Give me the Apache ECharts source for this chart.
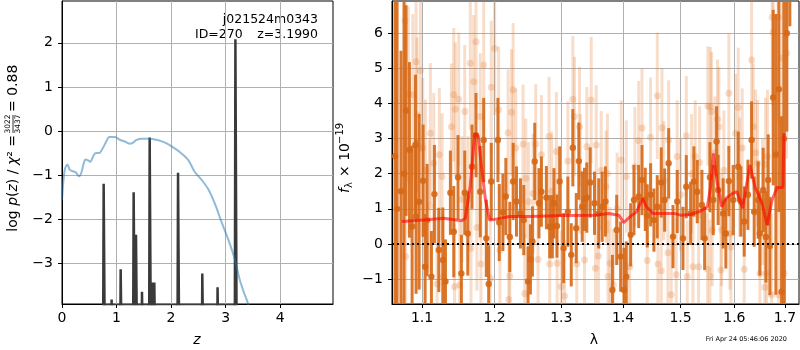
<!DOCTYPE html>
<html>
<head>
<meta charset="utf-8">
<script src="https://cdn.jsdelivr.net/npm/echarts@6/dist/echarts.min.js"></script>
<style>
html, body { margin: 0; padding: 0; background: #fff; }
#charts { width: 800px; height: 350px; }
</style>
</head>
<body>
<div id="charts"></div>
<script>
// left panel: log p(z) curve
var pzZ = [0, 0.05, 0.10, 0.14, 0.21, 0.26, 0.31, 0.355, 0.40, 0.43, 0.48, 0.52, 0.57, 0.62, 0.68, 0.74, 0.80, 0.87, 0.97, 1.06,
  1.15, 1.24, 1.30, 1.36, 1.46, 1.58, 1.73, 1.88, 2.01, 2.16, 2.31, 2.43, 2.56, 2.68, 2.80, 2.92, 3.05, 3.17, 3.26, 3.34, 3.41, 3.50];
var pzLog = [-1.56, -0.88, -0.76, -0.88, -0.92, -0.95, -1.03, -0.95, -0.73, -0.65, -0.67, -0.70, -0.58, -0.50, -0.50, -0.41, -0.27, -0.14, -0.14, -0.20,
  -0.24, -0.29, -0.27, -0.21, -0.18, -0.18, -0.20, -0.26, -0.35, -0.48, -0.65, -0.92, -1.11, -1.32, -1.64, -2.05, -2.47, -2.92, -3.38, -3.68, -3.92, -4.4];
// chi2 spikes
var spikeZ = [0.771, 0.917, 1.083, 1.321, 1.364, 1.474, 1.615, 1.67, 1.70, 2.135, 2.58, 2.86, 3.187];
var spikeTop = [-1.20, -3.83, -3.14, -1.39, -2.36, -3.65, -0.15, -3.44, -3.44, -0.95, -3.24, -3.55, 2.08];
var zTicks = [0, 1, 2, 3, 4];
var logpTicks = [-3, -2, -1, 0, 1, 2];

// right panel: spectrum
var lamTicks = [1.1, 1.2, 1.3, 1.4, 1.5, 1.6, 1.7];
var fluxTicks = [-1, 0, 1, 2, 3, 4, 5, 6];

var darkLam = [1.0649, 1.0675, 1.0725, 1.0764, 1.0790, 1.0834, 1.0869, 1.0913, 1.0921, 1.0961,
  1.1013, 1.1040, 1.1066, 1.1124, 1.1164, 1.1223, 1.1277, 1.1313, 1.1380, 1.1426,
  1.1485, 1.1531, 1.1578, 1.1620, 1.1679, 1.1735, 1.1795, 1.1844, 1.1881, 1.1915,
  1.1952, 1.2048, 1.2067, 1.2120, 1.2163, 1.2221, 1.2270, 1.2319, 1.2378, 1.2427,
  1.2491, 1.2527, 1.2557, 1.2592, 1.2656, 1.2693, 1.2769, 1.2820, 1.2861, 1.2886,
  1.2932, 1.2974, 1.3036, 1.3103, 1.3156, 1.3181, 1.3235, 1.3276, 1.3330, 1.3367,
  1.3404, 1.3458, 1.3528, 1.3597, 1.3653, 1.3707, 1.3822, 1.3893, 1.3959, 1.4015,
  1.4054, 1.4128, 1.4184, 1.4264, 1.4321, 1.4378, 1.4412, 1.4470, 1.4528, 1.4586,
  1.4656, 1.4716, 1.4787, 1.4864, 1.4940, 1.5043, 1.5103, 1.5182, 1.5242, 1.5303,
  1.5389, 1.5439, 1.5537, 1.5599, 1.5662, 1.5692, 1.5786, 1.5837, 1.5894, 1.5977,
  1.6074, 1.6126, 1.6190, 1.6262, 1.6334, 1.6385, 1.6464, 1.6497, 1.6563, 1.6617,
  1.6663, 1.6696, 1.6763, 1.6817, 1.6878, 1.6932, 1.6979, 1.7040, 1.7101];
var darkFlux = [2.5, 1.0, 1.5, 2.0, 3.8, 2.68, 0.5, 2.82, 0.78, 1.2,
  1.8, -0.65, 0.68, -0.93, 1.42, -0.17, -0.46, -1.07, 1.46, 0.35,
  1.90, -0.84, 1.46, 0.30, 2.20, 3.10, 1.49, 2.96, 0.16, -1.14,
  1.78, 2.96, 0.61, 0.90, 1.35, 0.20, 1.78, 1.21, 0.87, 0.68,
  -1.07, -0.44, 0.07, 2.35, 1.16, 1.49, 1.32, 0.49, 0.49, 1.16,
  0.51, 1.78, -0.12, 0.92, -0.31, 2.74, 0.45, 2.36, 1.06, 1.27,
  1.32, 1.75, 1.16, 0.87, 1.06, 1.21, -1.31, 0.40, -0.36, -1.31,
  -0.93, 0.26, 1.25, 1.35, 1.82, 1.27, 0.80, 1.40, 0.68, 1.06,
  1.75, 1.25, 2.30, 0.21, 1.21, 0.16, 1.63, 0.87, 1.78, 1.49,
  1.11, 0.16, 1.90, 1.25, 2.92, 1.54, 0.87, 0.30, 1.79, 1.25,
  2.20, 1.21, 0.64, 1.40, 2.96, 0.92, 1.25, 0.30, 1.54, 0.20,
  1.82, -0.06, 4.17, 2.55, 4.41, -1.36, 3.00, 6.00, 8.00];
var darkErr = [5.0, 6.0, 4.0, 5.0, 3.0, 2.5, 2.3, 2.0, 2.2, 2.5,
  1.6, 1.5, 1.6, 1.3, 1.4, 1.2, 1.5, 1.2, 1.2, 1.3,
  1.2, 1.1, 1.2, 1.2, 1.2, 1.2, 1.3, 1.2, 1.1, 1.1,
  1.1, 1.2, 1.1, 1.1, 1.1, 1.0, 1.1, 1.0, 1.0, 1.0,
  1.0, 1.0, 1.0, 1.1, 1.0, 1.0, 0.9, 0.9, 0.9, 1.0,
  0.9, 1.0, 1.0, 1.0, 0.9, 1.1, 1.0, 1.1, 1.0, 0.9,
  1.0, 1.0, 0.9, 1.0, 1.0, 1.0, 1.0, 1.0, 1.0, 1.2,
  1.0, 0.9, 1.0, 0.9, 1.0, 0.9, 0.9, 0.9, 0.9, 0.9,
  1.0, 0.9, 1.0, 0.9, 0.9, 0.9, 0.9, 0.9, 1.0, 0.9,
  1.0, 0.9, 1.0, 1.0, 1.0, 1.0, 1.0, 1.0, 1.0, 1.0,
  1.0, 1.0, 1.0, 1.0, 1.1, 1.0, 1.1, 1.2, 1.2, 1.3,
  1.3, 1.4, 2.5, 4.0, 3.5, 5.0, 5.0, 2.8, 1.8];

var lightLam = [1.0776, 1.0784, 1.0819, 1.0879, 1.0921, 1.0934, 1.0978, 1.1009, 1.1044, 1.1097,
  1.1110, 1.1155, 1.1199, 1.1230, 1.1267, 1.1281, 1.1394, 1.1426, 1.1437, 1.1448,
  1.1494, 1.1508, 1.1540, 1.1578, 1.1624, 1.1655, 1.1665, 1.1702, 1.1735, 1.1748,
  1.1795, 1.1805, 1.1844, 1.1937, 1.1952, 1.2001, 1.2058, 1.2076, 1.2196, 1.2206,
  1.2221, 1.2246, 1.2270, 1.2309, 1.2417, 1.2442, 1.2457, 1.2567, 1.2607, 1.2642,
  1.2693, 1.2810, 1.2820, 1.2923, 1.2935, 1.3000, 1.3051, 1.3103, 1.3181, 1.3207,
  1.3244, 1.3287, 1.3367, 1.3404, 1.3475, 1.3544, 1.3556, 1.3592, 1.3637, 1.3718,
  1.3739, 1.3750, 1.3783, 1.3838, 1.3969, 1.4054, 1.4111, 1.4264, 1.4321, 1.4412,
  1.4470, 1.4586, 1.4598, 1.4656, 1.4668, 1.4774, 1.4787, 1.4832, 1.4922, 1.4940,
  1.5103, 1.5121, 1.5224, 1.5266, 1.5328, 1.5346, 1.5494, 1.5500, 1.5537, 1.5546,
  1.5568, 1.5580, 1.5630, 1.5680, 1.5705, 1.5743, 1.5756, 1.5894, 1.5914, 1.5933,
  1.6023, 1.6074, 1.6151, 1.6190, 1.6334, 1.6365, 1.6412, 1.6497, 1.6596, 1.6610,
  1.6630, 1.6650, 1.6730, 1.6742, 1.6763, 1.6863, 1.6873, 1.6944, 1.6985, 1.7034,
  1.2500, 1.2850, 1.3300, 1.3900, 1.4200, 1.4700, 1.5000, 1.5200, 1.5800, 1.6100, 1.6450, 1.6550];
var lightFlux = [6.36, -0.36, 4.27, 4.25, 5.19, 3.68, 4.94, 2.73, 2.11, 1.08,
  3.15, 2.30, -1.14, 2.54, 1.92, -0.93, 3.34, 4.25, -1.22, 3.84,
  4.12, -1.17, 1.27, 3.77, 1.27, 5.15, -0.12, 4.62, 5.76, 0.47,
  3.63, -0.57, 5.10, -0.98, 4.46, 5.57, 3.82, -0.17, 3.17, -1.58,
  -0.91, 3.75, 4.39, 2.73, 2.84, -1.41, 1.87, 1.44, 2.85, -0.44,
  2.54, 3.06, -0.57, 2.63, -0.55, -1.22, -1.48, 2.36, 4.12, 3.63,
  -0.57, 3.34, -0.46, 2.77, 4.10, -0.69, 2.82, -0.34, 2.09, 1.63,
  2.01, -0.93, -0.55, -1.17, 2.39, 1.92, -0.65, 2.94, 3.30, -0.47,
  3.04, 4.22, -0.57, -0.76, 3.31, -0.25, 2.96, -1.45, -0.88, 2.49,
  3.08, -0.93, -0.65, 2.49, -0.65, 2.32, -0.72, 3.93, -0.91, 3.91,
  3.77, 0.40, 2.60, 3.55, 3.34, -0.74, 0.40, 4.29, 0.30, -0.09,
  3.15, 3.89, 2.73, -0.72, 5.24, 3.34, 2.60, -0.84, -1.23, 2.27,
  -0.84, 2.49, -1.45, 6.46, 6.03, 6.46, -1.45, 5.29, -0.84, 5.43,
  1.2, 1.5, 2.0, 1.0, 2.2, 1.8, 1.4, 2.0, 2.1, 1.9, 2.3, 1.2];
var lightErr = [2.5, 2.5, 2.5, 2.3, 2.5, 2.2, 2.3, 2.0, 2.0, 1.9,
  2.0, 2.0, 1.8, 1.9, 1.8, 1.8, 1.8, 1.9, 1.8, 1.9,
  1.9, 1.8, 1.8, 1.9, 1.8, 1.9, 1.8, 1.9, 1.9, 1.8,
  1.8, 1.8, 1.9, 1.8, 1.9, 1.9, 1.8, 1.8, 1.8, 1.7,
  1.7, 1.8, 1.9, 1.7, 1.7, 1.7, 1.7, 1.7, 1.7, 1.7,
  1.7, 1.7, 1.7, 1.7, 1.7, 1.6, 1.6, 1.7, 1.8, 1.7,
  1.6, 1.7, 1.6, 1.7, 1.8, 1.6, 1.7, 1.6, 1.7, 1.6,
  1.7, 1.6, 1.6, 1.6, 1.7, 1.6, 1.6, 1.7, 1.7, 1.6,
  1.7, 1.8, 1.6, 1.6, 1.7, 1.6, 1.7, 1.6, 1.6, 1.6,
  1.7, 1.6, 1.6, 1.6, 1.6, 1.6, 1.6, 1.7, 1.6, 1.7,
  1.7, 1.6, 1.6, 1.7, 1.7, 1.6, 1.6, 1.7, 1.6, 1.6,
  1.7, 1.7, 1.7, 1.7, 1.8, 1.8, 1.8, 1.8, 1.9, 1.9,
  1.9, 1.9, 2.3, 2.5, 2.5, 3.0, 3.0, 3.0, 3.0, 3.0,
  1.7, 1.7, 1.7, 1.6, 1.7, 1.7, 1.6, 1.7, 1.7, 1.7, 1.8, 1.8];

var modelLam = [1.0735, 1.1106, 1.1285, 1.1536, 1.1585, 1.1652, 1.1720, 1.1767, 1.1812, 1.1870,
  1.1929, 1.2000, 1.2217, 1.2514, 1.3017, 1.3540, 1.3760, 1.3928, 1.4010, 1.4120,
  1.4230, 1.4330, 1.4400, 1.4510, 1.4880, 1.5000, 1.5180, 1.5370, 1.5490, 1.5550,
  1.5600, 1.5670, 1.5760, 1.5840, 1.5970, 1.6050, 1.6160, 1.6300, 1.6400, 1.6540,
  1.6640, 1.6740, 1.6840, 1.6960, 1.6980];
var modelFlux = [0.64, 0.70, 0.73, 0.66, 0.73, 1.63, 3.15, 3.06, 2.20, 1.25,
  0.68, 0.70, 0.78, 0.78, 0.81, 0.82, 0.87, 0.82, 0.61, 0.78,
  0.92, 1.29, 1.06, 0.87, 0.87, 0.82, 0.84, 0.94, 1.06, 1.63,
  2.58, 1.78, 1.06, 1.30, 1.44, 1.49, 1.02, 2.25, 1.63, 1.16,
  0.54, 1.25, 1.61, 1.61, 3.15];

var FONT = '"DejaVu Sans", sans-serif';

function minus(v) { return String(v).replace('-', '\u2212'); }

function errBars(color, alpha, lw, r) {
  return function (params, api) {
    var x = api.value(0), y = api.value(1), e = api.value(2);
    var lo = api.coord([x, y - e]), hi = api.coord([x, y + e]), c = api.coord([x, y]);
    return {
      type: 'group',
      children: [
        { type: 'line', shape: { x1: lo[0], y1: lo[1], x2: hi[0], y2: hi[1] }, style: { stroke: color, lineWidth: lw, opacity: alpha } },
        { type: 'circle', shape: { cx: c[0], cy: c[1], r: r }, style: { fill: color, opacity: alpha } }
      ]
    };
  };
}

var pzData = pzZ.map(function (z, i) { return [z, pzLog[i]]; });
var spikeData = [];
for (var i = 0; i < spikeZ.length; i++) {
  spikeData.push([spikeZ[i] - 0.02, -6], [spikeZ[i] - 0.007, spikeTop[i]], [spikeZ[i] + 0.007, spikeTop[i]], [spikeZ[i] + 0.02, -6]);
}
var darkData = darkLam.map(function (l, i) { return [l, darkFlux[i], darkErr[i]]; });
var lightData = lightLam.map(function (l, i) { return [l, lightFlux[i], lightErr[i]]; });
var modelData = modelLam.map(function (l, i) { return [l, modelFlux[i]]; });

var gridLine = { show: true, lineStyle: { color: '#b0b0b0', width: 1 } };
var axLine = { show: true, onZero: false, lineStyle: { color: '#000', width: 1 } };

var chart = echarts.init(document.getElementById('charts'));
var option = {
  animation: false,
  textStyle: { fontFamily: FONT },
  grid: [
    { left: 62, top: 1, width: 271, height: 303, show: true, borderColor: '#000', borderWidth: 1 },
    { left: 392, top: 1, width: 407, height: 303, show: true, borderColor: '#000', borderWidth: 1 }
  ],
  xAxis: [
    { gridIndex: 0, type: 'value', min: 0, max: 4.97, axisLine: axLine, splitLine: gridLine,
      axisTick: { length: 4, lineStyle: { color: '#000' }, customValues: zTicks },
      axisLabel: { customValues: zTicks, color: '#000', fontSize: 14, margin: 7 } },
    { gridIndex: 1, type: 'log', min: 1.061, max: 1.729, axisLine: axLine, splitLine: gridLine,
      axisTick: { length: 4, lineStyle: { color: '#000' }, customValues: lamTicks },
      axisLabel: { customValues: lamTicks, color: '#000', fontSize: 14, margin: 7,
        formatter: function (v) { return Number(v).toFixed(1); } } }
  ],
  yAxis: [
    { gridIndex: 0, type: 'value', min: -3.93, max: 2.95, axisLine: axLine, splitLine: gridLine,
      axisTick: { length: 4, lineStyle: { color: '#000' }, customValues: logpTicks },
      axisLabel: { customValues: logpTicks, color: '#000', fontSize: 14, margin: 9, formatter: minus } },
    { gridIndex: 1, type: 'value', min: -1.71, max: 6.92, axisLine: axLine, splitLine: gridLine,
      axisTick: { length: 4, lineStyle: { color: '#000' }, customValues: fluxTicks },
      axisLabel: { customValues: fluxTicks, color: '#000', fontSize: 14, margin: 9, formatter: minus } }
  ],
  series: [
    { type: 'line', xAxisIndex: 0, yAxisIndex: 0, data: spikeData, showSymbol: false, z: 2,
      lineStyle: { color: '#3a3a3a', width: 2.5 }, areaStyle: { color: '#3a3a3a', opacity: 1, origin: 'start' } },
    { type: 'line', xAxisIndex: 0, yAxisIndex: 0, data: pzData, showSymbol: false, smooth: 0.3, z: 3,
      lineStyle: { color: 'rgba(31,119,180,0.5)', width: 2 } },
    { type: 'custom', xAxisIndex: 1, yAxisIndex: 1, data: lightData, clip: true, z: 2,
      renderItem: errBars('rgb(224,122,50)', 0.26, 3, 3.5) },
    { type: 'custom', xAxisIndex: 1, yAxisIndex: 1, data: darkData, clip: true, z: 3,
      renderItem: errBars('rgb(214,104,22)', 0.9, 3, 3.2) },
    { type: 'line', xAxisIndex: 1, yAxisIndex: 1, data: modelData, showSymbol: false, z: 4,
      lineStyle: { color: 'rgba(255,0,0,0.6)', width: 3 },
      markLine: { silent: true, symbol: 'none', label: { show: false },
        lineStyle: { color: '#000', type: [2, 3], width: 2 }, data: [{ yAxis: 0 }] } }
  ],
  graphic: [
    { type: 'text', x: 318, y: 20, style: { text: 'j021524m0343', font: '12.5px ' + FONT, fill: '#000', align: 'right', verticalAlign: 'middle' } },
    { type: 'text', x: 195, y: 35, style: { text: 'ID=270', font: '12.5px ' + FONT, fill: '#000', align: 'left', verticalAlign: 'middle' } },
    { type: 'text', x: 318, y: 35, style: { text: 'z=3.1990', font: '12.5px ' + FONT, fill: '#000', align: 'right', verticalAlign: 'middle' } },
    { type: 'text', x: 197, y: 340, style: { text: 'z', font: 'italic 14px ' + FONT, fill: '#000', align: 'center', verticalAlign: 'middle' } },
    { type: 'text', x: 594, y: 340, style: { text: '\u03bb', font: '14px ' + FONT, fill: '#000', align: 'center', verticalAlign: 'middle' } },
    { type: 'text', x: 787, y: 339, style: { text: 'Fri Apr 24 05:46:06 2020', font: '6.5px ' + FONT, fill: '#000', align: 'right', verticalAlign: 'middle' } },
    { type: 'group', x: 13, y: 240, rotation: Math.PI / 2, children: [
      { type: 'text', x: 105, y: 0, style: { text: '{r|log }{i|p}{r|(}{i|z}{r|) / }{i|\u03c7}{r|\u00b2 =}', align: 'right', verticalAlign: 'middle',
        rich: { r: { font: '14px ' + FONT, fill: '#000' }, i: { font: 'italic 14px ' + FONT, fill: '#000' } } } },
      { type: 'text', x: 116, y: -5, style: { text: '3022', font: '7.5px ' + FONT, fill: '#000', align: 'center', verticalAlign: 'middle' } },
      { type: 'line', shape: { x1: 107, y1: 0, x2: 125, y2: 0 }, style: { stroke: '#000', lineWidth: 0.8 } },
      { type: 'text', x: 116, y: 5, style: { text: '3437', font: '7.5px ' + FONT, fill: '#000', align: 'center', verticalAlign: 'middle' } },
      { type: 'text', x: 128, y: 0, style: { text: '= 0.88', font: '14px ' + FONT, fill: '#000', align: 'left', verticalAlign: 'middle' } }
    ] },
    { type: 'group', x: 345, y: 193, rotation: Math.PI / 2, children: [
      { type: 'text', x: 0, y: 0, style: { text: 'f', font: 'italic 14px ' + FONT, fill: '#000', align: 'left', verticalAlign: 'middle' } },
      { type: 'text', x: 5, y: 4, style: { text: '\u03bb', font: '10px ' + FONT, fill: '#000', align: 'left', verticalAlign: 'middle' } },
      { type: 'text', x: 16, y: 0, style: { text: '\u00d7 10', font: '14px ' + FONT, fill: '#000', align: 'left', verticalAlign: 'middle' } },
      { type: 'text', x: 49, y: -5, style: { text: '\u221219', font: '10px ' + FONT, fill: '#000', align: 'left', verticalAlign: 'middle' } }
    ] }
  ]
};
chart.setOption(option);
</script>
</body>
</html>
